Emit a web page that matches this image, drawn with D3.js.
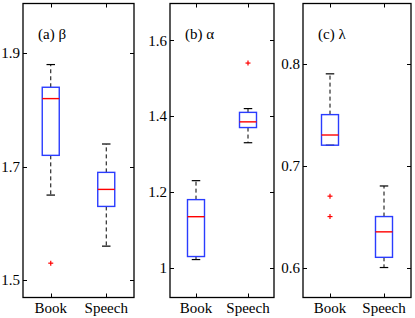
<!DOCTYPE html>
<html>
<head>
<meta charset="utf-8">
<script src="https://cdn.jsdelivr.net/npm/d3@7"></script>
<style>
  body { margin: 0; background: #fff; }
  text { font-family: "Liberation Serif", "Times New Roman", serif; font-size: 15px; fill: #000; }
</style>
</head>
<body>
<script>
// categories on the x axis
var categories = ["Book", "Speech"];

// panel titles
var titles = ["(a) \u03b2", "(b) \u03b1", "(c) \u03bb"];

// box stats per panel: [lower whisker, q1, median, q3, upper whisker]
var betaBoxes = [[1.65, 1.72, 1.82, 1.84, 1.88], [1.56, 1.63, 1.66, 1.69, 1.74]];
var alphaBoxes = [[1.022, 1.03, 1.135, 1.18, 1.23], [1.33, 1.37, 1.385, 1.41, 1.42]];
var lambdaBoxes = [[0.72, 0.72, 0.73, 0.75, 0.79], [0.60, 0.61, 0.635, 0.65, 0.68]];

// outliers per panel, per category
var betaOutliers = [[1.53], []];
var alphaOutliers = [[], [1.54]];
var lambdaOutliers = [[0.67, 0.65], []];

// y tick labels
var betaTicks = [1.5, 1.7, 1.9];
var alphaTicks = [1, 1.2, 1.4, 1.6];
var lambdaTicks = [0.6, 0.7, 0.8];

var width = 415, height = 318;
var topY = 3.5, bottomY = 297.5;

var panels = [
  { x0: 23, x1: 134, domain: [1.4695, 1.9876], boxes: betaBoxes, outliers: betaOutliers, ticks: betaTicks, fmt: d3.format(".1f") },
  { x0: 170, x1: 274, domain: [0.922, 1.697], boxes: alphaBoxes, outliers: alphaOutliers, ticks: alphaTicks, fmt: function(d) { return d === 1 ? "1" : d3.format(".1f")(d); } },
  { x0: 303, x1: 411, domain: [0.5706, 0.859], boxes: lambdaBoxes, outliers: lambdaOutliers, ticks: lambdaTicks, fmt: d3.format(".1f") }
];

var svg = d3.select("body").append("svg")
  .attr("width", width)
  .attr("height", height);

panels.forEach(function(p, pi) {
  var x = d3.scalePoint().domain(categories).range([p.x0, p.x1]).padding(0.5);
  var y = d3.scaleLinear().domain(p.domain).range([bottomY, topY]);
  var g = svg.append("g");
  var tickLen = 4;

  // y ticks on both sides, pointing inward
  p.ticks.forEach(function(t) {
    var ty = Math.round(y(t)) + 0.5;
    g.append("line").attr("x1", p.x0).attr("x2", p.x0 + tickLen).attr("y1", ty).attr("y2", ty)
      .attr("stroke", "#000").attr("stroke-width", 1);
    g.append("line").attr("x1", p.x1 - tickLen).attr("x2", p.x1).attr("y1", ty).attr("y2", ty)
      .attr("stroke", "#000").attr("stroke-width", 1);
    g.append("text").attr("x", p.x0 - 3).attr("y", y(t)).attr("dy", "0.35em")
      .attr("text-anchor", "end").text(p.fmt(t));
  });

  // x ticks top and bottom
  categories.forEach(function(c) {
    var cx = Math.round(x(c)) + 0.5;
    g.append("line").attr("x1", cx).attr("x2", cx).attr("y1", bottomY).attr("y2", bottomY - tickLen)
      .attr("stroke", "#000");
    g.append("line").attr("x1", cx).attr("x2", cx).attr("y1", topY).attr("y2", topY + tickLen)
      .attr("stroke", "#000");
    g.append("text").attr("x", x(c)).attr("y", 313).attr("text-anchor", "middle").text(c);
  });

  // boxes
  var bw = 17;
  p.boxes.forEach(function(s, i) {
    var cx = x(categories[i]);
    // dashed whiskers
    g.append("line").attr("x1", cx).attr("x2", cx).attr("y1", y(s[3])).attr("y2", y(s[4]))
      .attr("stroke", "#000").attr("stroke-dasharray", "4,3");
    g.append("line").attr("x1", cx).attr("x2", cx).attr("y1", y(s[1])).attr("y2", y(s[0]))
      .attr("stroke", "#000").attr("stroke-dasharray", "4,3");
    // caps
    [s[0], s[4]].forEach(function(v) {
      g.append("line").attr("x1", cx - bw / 4).attr("x2", cx + bw / 4)
        .attr("y1", y(v)).attr("y2", y(v)).attr("stroke", "#000").attr("stroke-width", 1.2);
    });
    g.append("rect").attr("x", cx - bw / 2).attr("y", y(s[3]))
      .attr("width", bw).attr("height", y(s[1]) - y(s[3]))
      .attr("fill", "none").attr("stroke", "#2a3cff").attr("stroke-width", 1.4);
    g.append("line").attr("x1", cx - bw / 2).attr("x2", cx + bw / 2)
      .attr("y1", y(s[2])).attr("y2", y(s[2])).attr("stroke", "#ff0000").attr("stroke-width", 1.4);

    // outliers as red plus signs
    p.outliers[i].forEach(function(o) {
      g.append("line").attr("x1", cx - 2.5).attr("x2", cx + 2.5).attr("y1", y(o)).attr("y2", y(o))
        .attr("stroke", "#ff0000").attr("stroke-width", 1.2);
      g.append("line").attr("x1", cx).attr("x2", cx).attr("y1", y(o) - 2.5).attr("y2", y(o) + 2.5)
        .attr("stroke", "#ff0000").attr("stroke-width", 1.2);
    });
  });

  // frame
  g.append("rect").attr("x", p.x0).attr("y", topY).attr("width", p.x1 - p.x0).attr("height", bottomY - topY)
    .attr("fill", "none").attr("stroke", "#000").attr("stroke-width", 1.3);

  // panel title
  g.append("text").attr("x", p.x0 + 15).attr("y", 39).text(titles[pi]);
});
</script>
</body>
</html>
